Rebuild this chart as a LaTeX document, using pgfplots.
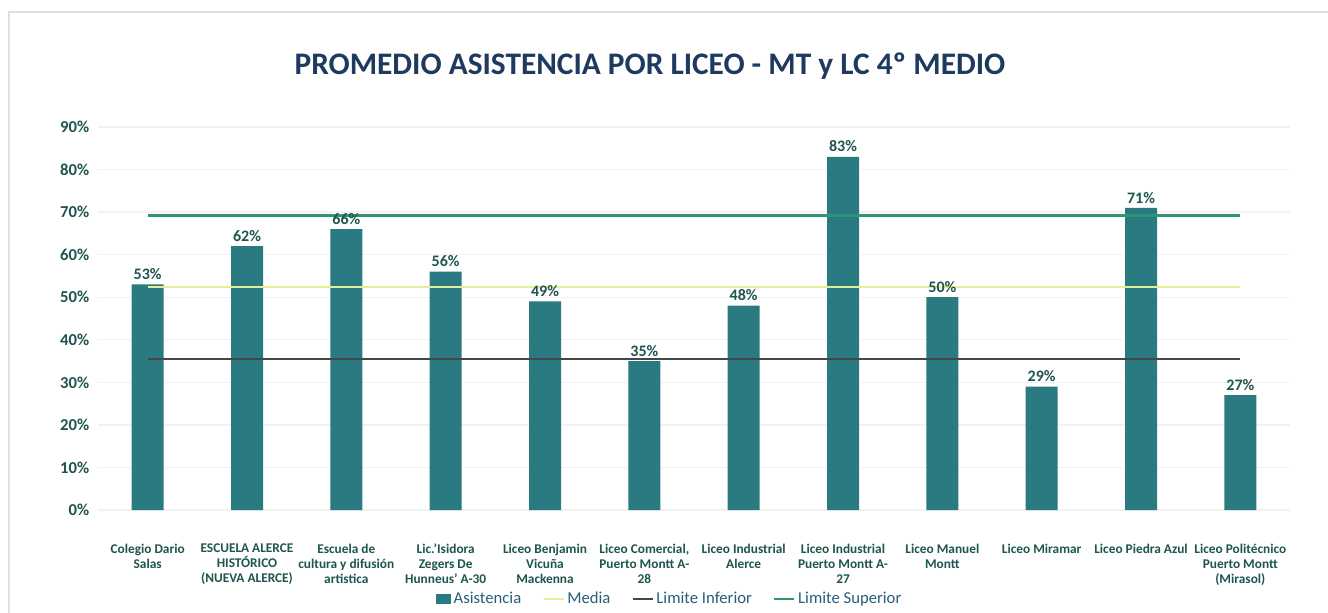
\documentclass[border=0pt]{standalone}
\usepackage{pgfplots}
\pgfplotsset{compat=1.18}
\usepackage{fontspec}
\setmainfont{Carlito}
\definecolor{barteal}{RGB}{42,122,130}
\definecolor{supc}{RGB}{46,150,115}
\definecolor{mediac}{RGB}{228,238,150}
\definecolor{infc}{RGB}{70,70,70}
\definecolor{labelc}{RGB}{30,85,78}
\definecolor{titlec}{RGB}{30,58,95}
\definecolor{legc}{RGB}{40,95,120}
\begin{document}
\begin{tikzpicture}
\path[use as bounding box] (-73.5pt,-76.5pt) rectangle (922.5pt,382.5pt);
\fill[white] (-73.5pt,-76.5pt) rectangle (922.5pt,382.5pt);
\draw[gray!25, line width=1.2pt] (-66.75pt,-80pt) -- (-66.75pt,373.5pt) -- (930pt,373.5pt);
\begin{axis}[
  at={(0,0)}, anchor=south west,
  scale only axis, width=894pt, height=287.25pt,
  xmin=-0.5, xmax=11.5, ymin=0, ymax=90,
  axis line style={draw=none}, tick style={draw=none},
  /pgf/number format/assume math mode=true,
  ytick={0,10,...,90},
  yticklabel={\pgfmathprintnumber{\tick}\%},
  yticklabel style={font=\bfseries\fontsize{12.5}{14}\selectfont, text=labelc, xshift=-3pt},
  ymajorgrids, grid style={gray!10, line width=1pt},
  xtick={0,...,11},
  xticklabels={{Colegio Dario\\Salas},{ESCUELA ALERCE\\HISTÓRICO\\(NUEVA ALERCE)},{Escuela de\\cultura y difusión\\artistica},{Lic.'Isidora\\Zegers De\\Hunneus' A-30},{Liceo Benjamin\\Vicuña\\Mackenna},{Liceo Comercial,\\Puerto Montt A-\\28},{Liceo Industrial\\Alerce},{Liceo Industrial\\Puerto Montt A-\\27},{Liceo Manuel\\Montt},{Liceo Miramar},{Liceo Piedra Azul},{Liceo Politécnico\\Puerto Montt\\(Mirasol)}},
  xticklabel style={align=center, anchor=north, font=\bfseries\fontsize{10}{11.25}\selectfont, text=labelc, yshift=-22pt},
  legend columns=4,
  legend style={draw=none, fill=none, at={(rel axis cs:0.48,-0.232)}, anchor=center,
    font=\fontsize{12.5}{14}\selectfont, text=legc,
    /tikz/every even column/.append style={column sep=14pt}},
  legend cell align=left,
]
\addplot[ybar, bar width=24pt, fill=barteal, draw=none,
  nodes near coords={\pgfmathprintnumber{\pgfplotspointmeta}\%},
  nodes near coords style={font=\bfseries\fontsize{12}{14}\selectfont, text=labelc},
  legend image code/.code={\fill[barteal] (0pt,-3.5pt) rectangle (11pt,4pt);}]
  coordinates {(0,53) (1,62) (2,66) (3,56) (4,49) (5,35) (6,48) (7,83) (8,50) (9,29) (10,71) (11,27)};
\addlegendentry{Asistencia}
\addplot[mediac, line width=1.6pt, mark=none,
  legend image code/.code={\draw[mediac, line width=1.6pt] (0pt,0pt) -- (15pt,0pt);}] coordinates {(0,52.4) (11,52.4)};
\addlegendentry{Media}
\addplot[infc, line width=1.5pt, mark=none,
  legend image code/.code={\draw[infc, line width=1.5pt] (0pt,0pt) -- (15pt,0pt);}] coordinates {(0,35.6) (11,35.6)};
\addlegendentry{Limite Inferior}
\addplot[supc, line width=1.7pt, mark=none,
  legend image code/.code={\draw[supc, line width=1.7pt] (0pt,0pt) -- (15pt,0pt);}] coordinates {(0,69.2) (11,69.2)};
\addlegendentry{Limite Superior}
\end{axis}
\node[font=\bfseries\fontsize{23.5}{27}\selectfont, text=titlec] at (414pt,333pt) {PROMEDIO ASISTENCIA POR LICEO - MT y LC 4º MEDIO};
\end{tikzpicture}
\end{document}
